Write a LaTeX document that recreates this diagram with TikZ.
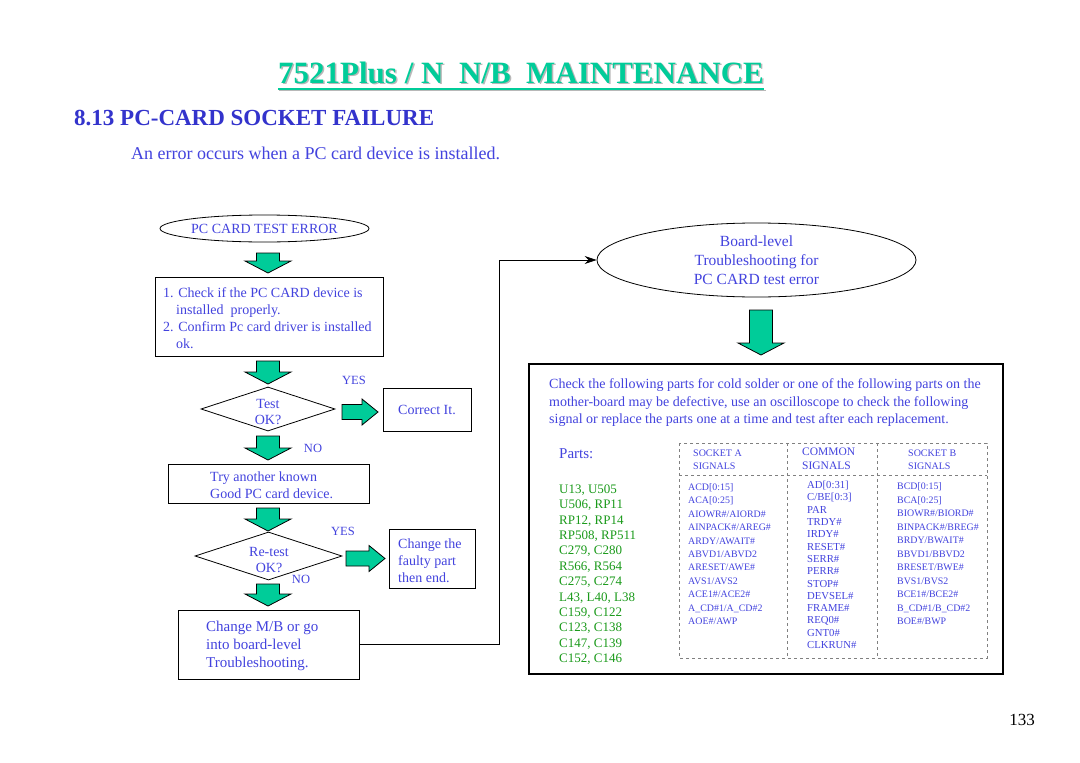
\documentclass[tikz,border=0pt]{standalone}
\usepackage{fontspec}
\setmainfont{Liberation Serif}
\definecolor{cGreen}{HTML}{00CC99}
\definecolor{cHead}{HTML}{3333CC}
\definecolor{cText}{HTML}{4343DE}
\definecolor{cPart}{HTML}{1A9A1A}
\definecolor{cShade}{HTML}{B8B8B8}
\usetikzlibrary{shapes.geometric}
\usetikzlibrary{arrows.meta}
\usetikzlibrary{calc}
\newcommand{\fs}[2]{\fontsize{#1}{#2}\selectfont}
% green block arrows: centre x, top y, tip y
\newcommand{\dnarrow}[3]{%
  \draw[blockarrow] ({#1-11.5},#2) -- ({#1+11.5},#2) -- ({#1+11.5},{#3-12}) -- ({#1+23},{#3-12})
    -- (#1,#3) -- ({#1-23},{#3-12}) -- ({#1-11.5},{#3-12}) -- cycle;}
% left x, tip x, centre y
\newcommand{\rtarrow}[3]{%
  \draw[blockarrow] (#1,{#3-7.5}) -- ({#2-16},{#3-7.5}) -- ({#2-16},{#3-13}) -- (#2,#3)
    -- ({#2-16},{#3+13}) -- ({#2-16},{#3+7.5}) -- (#1,{#3+7.5}) -- cycle;}
\tikzset{
  blockarrow/.style={draw=black, fill=cGreen, line width=0.8pt},
  txt/.style={text=cText},
  box/.style={draw, line width=0.8pt, txt, font=\fs{14}{17}, inner sep=0pt},
  oval/.style={draw, ellipse, line width=0.8pt, txt, inner sep=0pt},
  dia/.style={draw, diamond, aspect=3, line width=0.8pt, inner sep=0pt},
  diatext/.style={txt, align=center, font=\fs{14}{16}, inner sep=0pt},
  lbl/.style={txt, font=\fs{12.5}{15}, inner sep=0pt},
  sig/.style={txt, anchor=north west, inner sep=0pt, align=left},
  grid/.style={draw=gray, dashed, line width=0.5pt}
}
\begin{document}
\begin{tikzpicture}[x=1pt, y=-1pt]
		\fill[white] (0,0) rectangle (1080,763);
		\useasboundingbox (0,0) rectangle (1080,763);
		% heading
		\node[anchor=base, inner sep=0pt, text=cShade, font=\fs{31}{31}\bfseries] (titleshadow) at (522.5,84.5) {7521Plus / N\ \ N/B\ \ MAINTENANCE};
		\draw[cShade, line width=1.6pt] ($(titleshadow.base west)+(0,6)$) -- ($(titleshadow.base east)+(0,6)$);
		\node[anchor=base, inner sep=0pt, text=cGreen, font=\fs{31}{31}\bfseries] (title) at (521,83) {7521Plus / N\ \ N/B\ \ MAINTENANCE};
		\draw[cGreen, line width=1.6pt] ($(title.base west)+(0,6)$) -- ($(title.base east)+(0,6)$);
		\node[anchor=base west, inner sep=0pt, text=cHead, font=\fs{23}{23}\bfseries] (sect) at (74,125.6) {8.13 PC-CARD SOCKET FAILURE};
		\node[anchor=base west, inner sep=0pt, txt, font=\fs{18}{18}] (intro) at (131,159) {An error occurs when a PC card device is installed.};
		% left flow
		\node[oval, minimum width=209, minimum height=27, font=\fs{14}{16}] (err) at (264.5,228.5) {PC CARD TEST ERROR};
		\dnarrow{268}{253}{273}
		\node[box, minimum width=228, minimum height=79, align=left] (chk) at (269,316.5) {};
		\node[sig, font=\fs{14}{17}] (chktext) at (163,287.5) {1. Check if the PC CARD device is\\\hspace*{13pt}installed\ \ properly.\\2. Confirm Pc card driver is installed\\\hspace*{13pt}ok.};
		\dnarrow{268}{361}{384}
		\node[dia, minimum width=134, minimum height=44] (test) at (268,409) {};
		\node[diatext] (testtext) at (268,412.5) {Test\\OK?};
		\node[lbl] (yes1) at (354,380) {YES};
		\rtarrow{342}{378}{412}
		\node[box, minimum width=88, minimum height=43] (fix) at (427,409.5) {Correct It.};
		\dnarrow{268}{436}{460}
		\node[lbl] (no1) at (313,448) {NO};
		\node[box, minimum width=201, minimum height=39] (try) at (268.5,483.5) {};
		\node[sig, font=\fs{14}{17}] (trytext) at (210,471.5) {Try another known\\Good PC card device.};
		\dnarrow{268}{508}{531}
		\node[lbl] (yes2) at (343,531) {YES};
		\node[dia, minimum width=147, minimum height=48] (retest) at (268.5,556) {};
		\node[diatext] (retesttext) at (269,560.5) {Re-test\\OK?};
		\node[lbl] (no2) at (301,579) {NO};
		\rtarrow{346}{385}{558.5}
		\node[box, minimum width=86, minimum height=59] (repl) at (432,558.5) {};
		\node[sig, font=\fs{14}{17}] (repltext) at (398,538.5) {Change the\\faulty part\\then end.};
		\dnarrow{268}{584}{606}
		\node[box, minimum width=181, minimum height=69] (mb) at (268.5,644.5) {};
		\node[sig, font=\fs{15}{18}] (mbtext) at (206,621) {Change M/B or go\\into board-level\\Troubleshooting.};
		% right side
		\node[oval, minimum width=319, minimum height=74, font=\fs{15.5}{19}, align=center] (blevel) at (756.5,260) {Board-level\\Troubleshooting for\\PC CARD test error};
		\coordinate (bend) at (499,0);
		\draw[line width=0.8pt, -{Stealth[length=12pt, width=8pt]}] (mb.east) -- (mb.east -| bend) |- (blevel.west);
		\dnarrow{761}{310}{355}
		\node[draw, line width=1.2pt, minimum width=474, minimum height=310, inner sep=0pt] (partbox) at (766,519) {};
		\node[sig, font=\fs{14}{17.5}] (para) at (549,378.5) {Check the following parts for cold solder or one of the following parts on the\\mother-board may be defective, use an oscilloscope to check the following\\signal or replace the parts one at a time and test after each replacement.};
		\node[sig, font=\fs{15}{15}] (partshd) at (559,448) {Parts:};
		\node[sig, text=cPart, font=\fs{13}{15.4}] (parts) at (559,484.5) {U13, U505\\U506, RP11\\RP12, RP14\\RP508, RP511\\C279, C280\\R566, R564\\C275, C274\\L43, L40, L38\\C159, C122\\C123, C138\\C147, C139\\C152, C146};
		% signal table
		\draw[grid] (679,443) rectangle (987,658);
		\draw[grid] (787,443) -- (787,658);
		\draw[grid] (877,443) -- (877,658);
		\draw[grid] (679,475) -- (987,475);
		\node[sig, font=\fs{10}{13}] (hda) at (693,449.5) {SOCKET A\\SIGNALS};
		\node[sig, font=\fs{11.5}{14}] (hdc) at (802,448) {COMMON\\SIGNALS};
		\node[sig, font=\fs{10}{13}] (hdb) at (908,449.5) {SOCKET B\\SIGNALS};
		\node[sig, font=\fs{9.9}{13.4}] (siga) at (688,483.5) {ACD[0:15]\\ACA[0:25]\\AIOWR\#/AIORD\#\\AINPACK\#/AREG\#\\ARDY/AWAIT\#\\ABVD1/ABVD2\\ARESET/AWE\#\\AVS1/AVS2\\ACE1\#/ACE2\#\\A\_CD\#1/A\_CD\#2\\AOE\#/AWP};
		\node[sig, font=\fs{10.7}{12.3}] (sigc) at (807,481) {AD[0:31]\\C/BE[0:3]\\PAR\\TRDY\#\\IRDY\#\\RESET\#\\SERR\#\\PERR\#\\STOP\#\\DEVSEL\#\\FRAME\#\\REQ0\#\\GNT0\#\\CLKRUN\#};
		\node[sig, font=\fs{9.9}{13.5}] (sigb) at (897,482.5) {BCD[0:15]\\BCA[0:25]\\BIOWR\#/BIORD\#\\BINPACK\#/BREG\#\\BRDY/BWAIT\#\\BBVD1/BBVD2\\BRESET/BWE\#\\BVS1/BVS2\\BCE1\#/BCE2\#\\B\_CD\#1/B\_CD\#2\\BOE\#/BWP};
		\node[inner sep=0pt, font=\fs{17}{17}] (page) at (1022,720) {133};
\end{tikzpicture}
\end{document}
